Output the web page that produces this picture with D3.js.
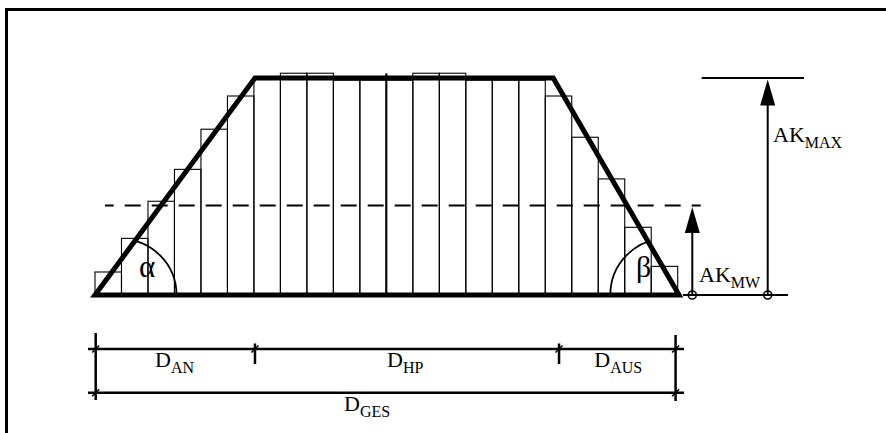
<!DOCTYPE html>
<html><head><meta charset="utf-8">
<script src="https://cdn.jsdelivr.net/npm/d3@7"></script>
<style>html,body{margin:0;padding:0;background:#fff;}svg{display:block;}</style>
</head><body>
<svg id="c" width="886" height="433"></svg>
<script>
// ---- data ----
const barValues = [10.6, 26.1, 43.2, 57.9, 76.4, 91.7, 99.5, 102.2, 102.2, 99, 99, 99,
                   102.2, 102.2, 99, 99, 99, 91.7, 72.7, 53.5, 31.2, 13.2];
const trapX = [0, 6.04, 17.3, 22.05];
const trapY = [0, 100, 100, 0];
const akMax = 100;
const akMW = 41.2;
const dimX = [0, 6.04, 17.52, 21.92];
const dimLabels = [["D","AN"], ["D","HP"], ["D","AUS"]];
const totalLabel = ["D","GES"];
const akLabels = [["AK","MAX"], ["AK","MW"]];
const angleLabels = ["α", "β"];

// ---- scales ----
const svg = d3.select("#c");
const x = d3.scaleLinear().domain([0, barValues.length]).range([95, 677.7]);
const y = d3.scaleLinear().domain([0, 100]).range([295, 78]);
const bw = x(1) - x(0);

// frame
svg.append("path").attr("d", "M6.5,433V9.5H886").attr("fill", "none")
  .attr("stroke", "#000").attr("stroke-width", 3);

// bars
svg.append("g").selectAll("rect").data(barValues).join("rect")
  .attr("x", (d, i) => x(i)).attr("y", d => y(d))
  .attr("width", bw).attr("height", d => y(0) - y(d))
  .attr("fill", "none").attr("stroke", "#000").attr("stroke-width", 1.1);
// centre line
svg.append("line").attr("x1", x(barValues.length / 2)).attr("x2", x(barValues.length / 2))
  .attr("y1", y(0)).attr("y2", y(102.2)).attr("stroke", "#000").attr("stroke-width", 2);

// dashed mean line
svg.append("line").attr("x1", 105).attr("x2", 700.7).attr("y1", y(akMW)).attr("y2", y(akMW))
  .attr("stroke", "#000").attr("stroke-width", 2).attr("stroke-dasharray", "16,11")
  .attr("stroke-dashoffset", 7.3);

// trapezoid
const trapPts = trapX.map((v, i) => [x(v), y(trapY[i])]);
svg.append("defs").append("clipPath").attr("id", "tc").append("polygon")
  .attr("points", trapPts.map(p => p.join(",")).join(" "));
// angle arcs (clipped to trapezoid)
const arcs = [{cx: x(trapX[0]) + 25.5, r: 56}, {cx: x(trapX[3]) - 12, r: 56.7}];
arcs.forEach(a => {
  svg.append("path")
    .attr("d", `M${a.cx - a.r},${y(0)} A${a.r},${a.r} 0 0 1 ${a.cx + a.r},${y(0)}`)
    .attr("fill", "none").attr("stroke", "#000").attr("stroke-width", 1.8)
    .attr("clip-path", "url(#tc)");
});
svg.append("polygon").attr("points", trapPts.map(p => p.join(",")).join(" "))
  .attr("fill", "none").attr("stroke", "#000").attr("stroke-width", 5)
  .attr("stroke-linejoin", "miter");

// angle labels
svg.append("text").attr("x", 139).attr("y", 277).text(angleLabels[0])
  .attr("font-family", "Liberation Serif").attr("font-size", 31);
svg.append("text").attr("x", 636).attr("y", 277).text(angleLabels[1])
  .attr("font-family", "Liberation Serif").attr("font-size", 30);

// right annotations
const g = svg.append("g").attr("stroke", "#000");
g.append("line").attr("x1", 683).attr("x2", 788).attr("y1", y(0)).attr("y2", y(0)).attr("stroke-width", 2);
g.append("line").attr("x1", 701.7).attr("x2", 804).attr("y1", y(akMax)).attr("y2", y(akMax)).attr("stroke-width", 2);
function arrow(px, val) {
  const tip = y(val) + 1.5;
  g.append("line").attr("x1", px).attr("x2", px).attr("y1", y(0)).attr("y2", tip + 10).attr("stroke-width", 2);
  g.append("path").attr("d", `M${px},${tip}L${px - 7.5},${tip + 26}L${px + 7.5},${tip + 26}Z`)
    .attr("fill", "#000").attr("stroke", "none");
  g.append("circle").attr("cx", px).attr("cy", y(0)).attr("r", 4).attr("fill", "none").attr("stroke-width", 1.6);
}
arrow(767.7, akMax);
arrow(692.3, akMW);

function label(px, py, pair) {
  const t = svg.append("text").attr("x", px).attr("y", py)
    .attr("font-family", "Liberation Serif").attr("font-size", 22);
  t.append("tspan").text(pair[0]);
  t.append("tspan").text(pair[1]).attr("font-size", 16).attr("dy", 6);
}
label(773, 141.7, akLabels[0]);
label(699, 281.7, akLabels[1]);

// dimension lines
const dy1 = 349, dy2 = 392.7;
const dg = svg.append("g").attr("stroke", "#000");
[dy1, dy2].forEach(yy => dg.append("line").attr("x1", 88).attr("x2", 684)
  .attr("y1", yy).attr("y2", yy).attr("stroke-width", 2.5));
dg.append("line").attr("x1", x(dimX[0]) + 0.7).attr("x2", x(dimX[0]) + 0.7).attr("y1", 333).attr("y2", 400).attr("stroke-width", 2.5);
dg.append("line").attr("x1", x(dimX[3])).attr("x2", x(dimX[3])).attr("y1", 335).attr("y2", 401).attr("stroke-width", 2.5);
[1, 2].forEach(i => dg.append("line").attr("x1", x(dimX[i])).attr("x2", x(dimX[i]))
  .attr("y1", 343.5).attr("y2", 364).attr("stroke-width", 2.5));
const slashes = [[x(dimX[0]) + 0.7, dy1], [x(dimX[0]) + 0.7, dy2], [x(dimX[1]), dy1], [x(dimX[2]), dy1], [x(dimX[3]), dy1], [x(dimX[3]), dy2]];
slashes.forEach(s => dg.append("line").attr("x1", s[0] - 3.5).attr("y1", s[1] + 3.5)
  .attr("x2", s[0] + 3.5).attr("y2", s[1] - 3.5).attr("stroke-width", 1.5));

label(155, 366.7, dimLabels[0]);
label(387, 366.7, dimLabels[1]);
label(594.3, 366.7, dimLabels[2]);
label(344, 411, totalLabel);
</script>
</body></html>
